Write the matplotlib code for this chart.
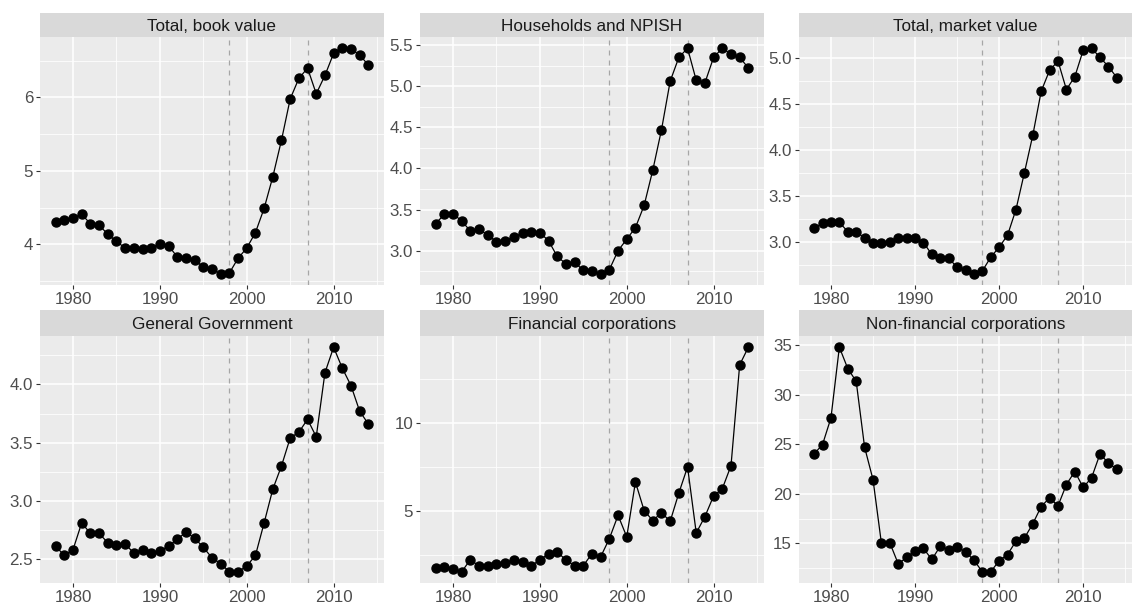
import matplotlib
matplotlib.use("Agg")
import matplotlib.pyplot as plt
import numpy as np
from matplotlib.ticker import MultipleLocator, FormatStrFormatter

plt.rcParams['font.family'] = ['Liberation Sans', 'DejaVu Sans']

years = list(range(1978, 2015))

total_book = [4.30, 4.33, 4.36, 4.41, 4.28, 4.26, 4.14, 4.04, 3.95, 3.95, 3.94, 3.95, 4.01, 3.98,
              3.83, 3.81, 3.79, 3.69, 3.66, 3.60, 3.61, 3.81, 3.95, 4.16, 4.49, 4.92, 5.42, 5.98,
              6.26, 6.40, 6.05, 6.30, 6.60, 6.67, 6.66, 6.58, 6.44]
households = [3.33, 3.44, 3.45, 3.36, 3.24, 3.26, 3.19, 3.11, 3.12, 3.17, 3.21, 3.23, 3.22, 3.12,
              2.93, 2.84, 2.86, 2.76, 2.75, 2.72, 2.77, 3.00, 3.14, 3.28, 3.55, 3.98, 4.47, 5.06,
              5.35, 5.46, 5.07, 5.04, 5.35, 5.46, 5.39, 5.35, 5.22]
total_market = [3.15, 3.20, 3.21, 3.21, 3.11, 3.11, 3.04, 2.99, 2.99, 3.00, 3.04, 3.04, 3.04, 2.99,
                2.86, 2.82, 2.82, 2.72, 2.69, 2.65, 2.68, 2.83, 2.94, 3.07, 3.35, 3.75, 4.16, 4.64,
                4.87, 4.97, 4.66, 4.80, 5.09, 5.11, 5.01, 4.91, 4.79]
general_gov = [2.61, 2.53, 2.58, 2.81, 2.72, 2.72, 2.64, 2.62, 2.63, 2.55, 2.58, 2.55, 2.57, 2.61,
               2.67, 2.73, 2.68, 2.60, 2.51, 2.46, 2.39, 2.39, 2.44, 2.53, 2.81, 3.10, 3.30, 3.54,
               3.59, 3.70, 3.55, 4.10, 4.32, 4.14, 3.99, 3.77, 3.66]
financial = [1.79, 1.83, 1.75, 1.57, 2.26, 1.89, 1.89, 2.02, 2.08, 2.26, 2.13, 1.92, 2.23, 2.60,
             2.70, 2.23, 1.92, 1.92, 2.60, 2.42, 3.45, 4.77, 3.55, 6.66, 5.04, 4.47, 4.92, 4.43,
             6.04, 7.51, 3.77, 4.70, 5.87, 6.28, 7.58, 13.30, 14.30]
nonfinancial = [24.03, 24.97, 27.65, 34.77, 32.62, 31.34, 24.70, 21.44, 15.03, 15.07, 12.95, 13.59,
                14.26, 14.50, 13.39, 14.73, 14.36, 14.63, 14.16, 13.32, 12.15, 12.15, 13.26, 13.89,
                15.23, 15.54, 16.98, 18.72, 19.60, 18.79, 20.94, 22.25, 20.64, 21.64, 24.03, 23.09,
                22.48]

titles = ["Total, book value", "Households and NPISH", "Total, market value",
          "General Government", "Financial corporations", "Non-financial corporations"]
series = [total_book, households, total_market, general_gov, financial, nonfinancial]
vlines = [1998, 2007]
xbreaks = [1980, 1990, 2000, 2010]

major_steps = [1, 0.5, 0.5, 0.5, 5, 5]
formats = ["%d", "%.1f", "%.1f", "%.1f", "%d", "%d"]

W, H = 1132, 604
fig = plt.figure(figsize=(W / 100, H / 100), dpi=100)

lefts = [40, 420, 799]
rights = [384, 764, 1132]
rows = [(13, 37, 285), (310, 336, 583)]  # strip top, panel top, panel bottom

for i, (title, vals) in enumerate(zip(titles, series)):
    r, c = divmod(i, 3)
    st, pt, pb = rows[r]
    l, rr = lefts[c], rights[c]
    ax = fig.add_axes([l / W, 1 - pb / H, (rr - l) / W, (pb - pt) / H])
    sax = fig.add_axes([l / W, 1 - pt / H, (rr - l) / W, (pt - st) / H])
    sax.set_facecolor('#D9D9D9')
    sax.set_xticks([]); sax.set_yticks([])
    for s in sax.spines.values():
        s.set_visible(False)
    sax.text(0.5, 0.45, title, ha='center', va='center', fontsize=12.3, color='#1A1A1A',
             transform=sax.transAxes)

    ax.set_facecolor('#EBEBEB')
    for s in ax.spines.values():
        s.set_visible(False)
    x0, x1 = min(years), max(years)
    dx = (x1 - x0) * 0.05
    ax.set_xlim(x0 - dx, x1 + dx)
    y0, y1 = min(vals), max(vals)
    dy = (y1 - y0) * 0.05
    ax.set_ylim(y0 - dy, y1 + dy)
    ax.xaxis.set_major_locator(matplotlib.ticker.FixedLocator(xbreaks))
    ax.xaxis.set_minor_locator(MultipleLocator(5))
    ax.yaxis.set_major_locator(MultipleLocator(major_steps[i]))
    ax.yaxis.set_minor_locator(MultipleLocator(major_steps[i] / 2))
    ax.yaxis.set_major_formatter(FormatStrFormatter(formats[i]))
    ax.grid(which='major', color='white', linewidth=1.1)
    ax.grid(which='minor', color='white', linewidth=0.55)
    ax.set_axisbelow(True)
    ax.tick_params(which='major', length=3, width=0.8, color='#333333',
                   labelsize=12.2, labelcolor='#4D4D4D', pad=2)
    ax.tick_params(which='minor', length=0)
    for v in vlines:
        ax.axvline(v, color='#A6A6A6', linestyle=(0, (4, 4)), linewidth=0.9, zorder=1)
    ax.plot(years, vals, color='black', linewidth=0.9, marker='o', markersize=6.5, zorder=3)

fig.savefig("out.png", dpi=100)
